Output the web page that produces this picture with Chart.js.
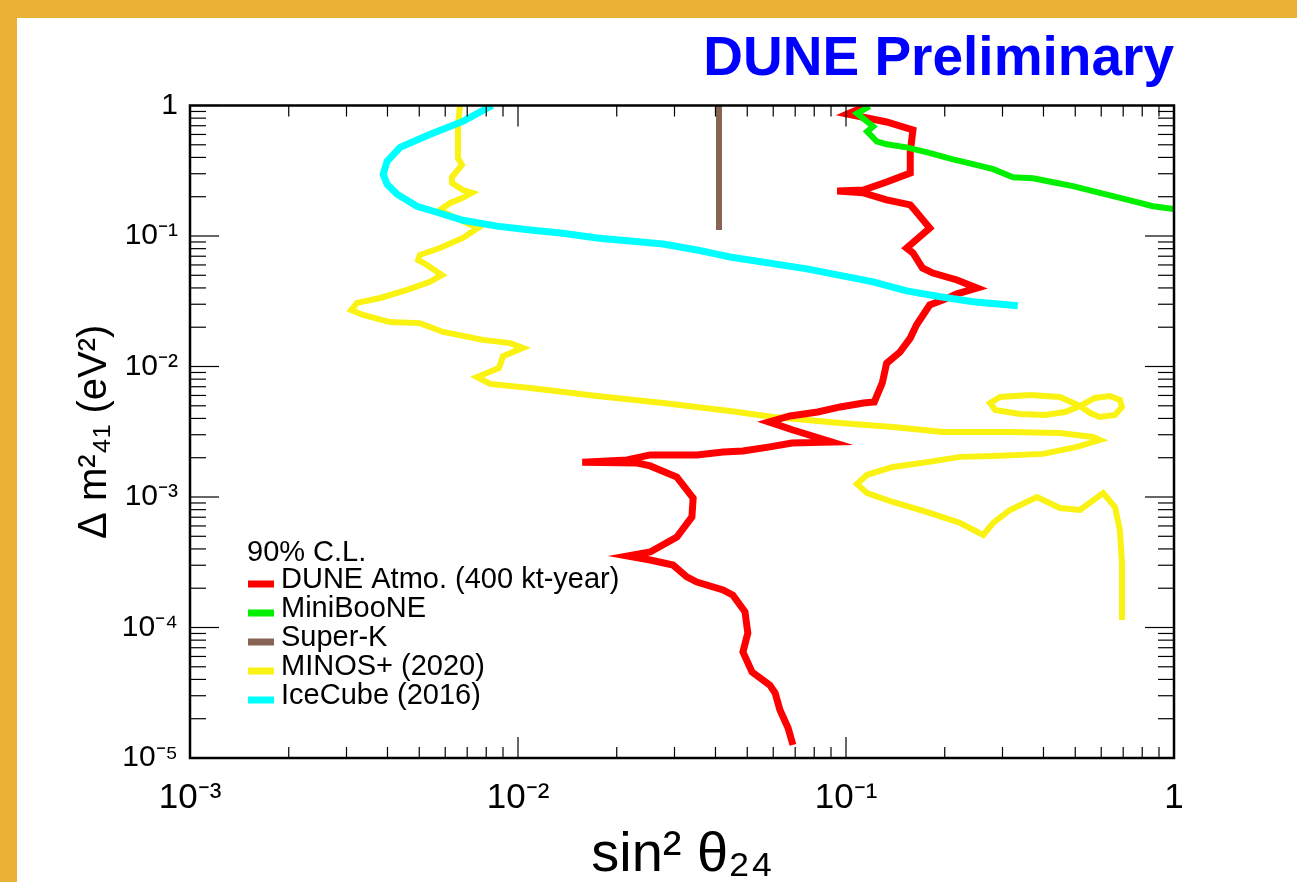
<!DOCTYPE html>
<html>
<head>
<meta charset="utf-8">
<script src="https://cdn.jsdelivr.net/npm/chart.js@4.4.0/dist/chart.umd.min.js"></script>
<style>
html,body{margin:0;padding:0;background:#EAB234;overflow:hidden;}
canvas{display:block;}
</style>
</head>
<body>
<canvas id="c" width="1297" height="882"></canvas>
<script>
// ---------- tick labels ----------
const xTickValues = [0.001, 0.01, 0.1, 1];
const xTickLabels = ['10⁻³', '10⁻²', '10⁻¹', '1'];
const yTickValues = [1e-5, 1e-4, 1e-3, 1e-2, 1e-1, 1];
const yTickLabels = ['10⁻⁵', '10⁻⁴', '10⁻³', '10⁻²', '10⁻¹', '1'];

// ---------- DUNE Atmo. (400 kt-year) ----------
const duneX = [0.115,0.101,0.133,0.160,0.157,0.157,0.133,0.113,0.094,0.113,0.133,0.157,0.162,0.180,0.153,0.160,0.171,0.184,0.218,0.251,0.218,0.198,0.180,0.164,0.157,0.146,0.133,0.129,0.122,0.113,0.096,0.082,0.0675,0.0582,0.0689,0.0906,0.0684,0.0586,0.0485,0.0422,0.0351,0.0253,0.0215,0.0157,0.0231,0.0253,0.0305,0.0342,0.0339,0.0305,0.0253,0.0216,0.0253,0.0297,0.0327,0.0351,0.0422,0.0452,0.0492,0.0502,0.0485,0.0517,0.0586,0.0608,0.0629,0.0666,0.0689];
const duneY = [0.99,0.861,0.748,0.649,0.440,0.304,0.259,0.225,0.221,0.214,0.189,0.173,0.158,0.115,0.0809,0.0741,0.0569,0.0520,0.0460,0.0400,0.0360,0.0324,0.0296,0.0208,0.0165,0.0129,0.0106,0.00748,0.00535,0.00525,0.00490,0.00448,0.00418,0.00376,0.00326,0.00264,0.00259,0.00242,0.00225,0.00221,0.00210,0.00210,0.00192,0.00185,0.00182,0.00173,0.00142,0.000982,0.000703,0.000493,0.000379,0.000353,0.000329,0.000301,0.000244,0.000223,0.000194,0.000177,0.000132,0.0000908,0.0000649,0.0000456,0.0000362,0.0000315,0.0000233,0.0000170,0.0000126];

// ---------- MiniBooNE ----------
const booneX = [0.118,0.108,0.121,0.116,0.124,0.133,0.153,0.177,0.212,0.244,0.281,0.323,0.372,0.428,0.492,0.566,0.652,0.750,0.863,1.0];
const booneY = [0.983,0.869,0.691,0.633,0.531,0.504,0.478,0.438,0.387,0.355,0.325,0.282,0.277,0.258,0.241,0.221,0.202,0.185,0.169,0.161];

// ---------- Super-K ----------
const superKX = [0.041, 0.041];
const superKY = [1.0, 0.111];

// ---------- MINOS+ (2020) ----------
const minosX = [0.00665,0.00656,0.00656,0.00675,0.00629,0.00629,0.00679,0.00724,0.00679,0.00621,0.00578,0.00665,0.00755,0.00679,0.00578,0.00502,0.00496,0.00528,0.00586,0.00539,0.00459,0.00380,0.00323,0.00310,0.00337,0.00407,0.00502,0.00591,0.00782,0.00946,0.01035,0.0090,0.00875,0.0075,0.00822,0.0109,0.0174,0.0277,0.0443,0.0599,0.0959,0.139,0.198,0.316,0.449,0.566,0.594,0.506,0.399,0.281,0.223,0.177,0.139,0.116,0.108,0.116,0.139,0.177,0.223,0.262,0.281,0.316,0.382,0.449,0.517,0.608,0.661,0.684,0.694,0.694];
const minosY = [1.0,0.673,0.396,0.350,0.283,0.255,0.225,0.214,0.196,0.179,0.158,0.133,0.115,0.0966,0.0809,0.0715,0.0655,0.0600,0.0503,0.0445,0.0386,0.0335,0.0307,0.0271,0.0248,0.0219,0.0215,0.0184,0.0160,0.0151,0.0139,0.0120,0.00974,0.00831,0.00735,0.00684,0.00594,0.00525,0.00456,0.00410,0.00369,0.00344,0.00315,0.00315,0.00309,0.00288,0.00273,0.00242,0.00214,0.00206,0.00203,0.00185,0.00170,0.00148,0.00126,0.00107,0.000916,0.000767,0.000632,0.000512,0.000632,0.000795,0.00100,0.000824,0.000795,0.00107,0.000838,0.000558,0.000312,0.000114];
const minosIslandX = [0.517,0.449,0.364,0.295,0.275,0.285,0.339,0.405,0.465,0.517,0.574,0.638,0.684,0.694,0.661,0.594,0.555,0.517];
const minosIslandY = [0.00498,0.00584,0.00605,0.00584,0.00525,0.00465,0.00433,0.00425,0.00448,0.00498,0.00574,0.00594,0.00554,0.00490,0.00425,0.00410,0.00440,0.00498];

// ---------- IceCube (2016) ----------
const iceX = [0.00834,0.00679,0.0054,0.00437,0.00399,0.00388,0.00399,0.00428,0.00492,0.00566,0.00679,0.00863,0.0109,0.0137,0.0174,0.0219,0.0277,0.0351,0.0443,0.0760,0.121,0.153,0.194,0.244,0.334];
const iceY = [1.0,0.755,0.601,0.478,0.374,0.297,0.249,0.209,0.169,0.152,0.132,0.119,0.111,0.105,0.0966,0.0916,0.0869,0.0782,0.0691,0.056,0.0445,0.038,0.0342,0.0313,0.0292];

const legendHeader = '90% C.L.';
const FONT = '"Liberation Sans", Arial, Helvetica, sans-serif';

const pts = (xs, ys) => xs.map((x, i) => ({x: x, y: ys[i]}));

const COL = {
  dune: '#FF0000',
  boone: '#00F000',
  superk: '#876454',
  minos: '#F9F212',
  ice: '#00FFFF'
};

function ds(label, xs, ys, color, width, order, inLegend) {
  return {
    label: label,
    data: pts(xs, ys),
    showLine: true,
    borderColor: color,
    backgroundColor: color,
    borderWidth: width,
    pointRadius: 0,
    pointHoverRadius: 0,
    fill: false,
    tension: 0,
    order: order,
    inLegend: inLegend
  };
}

const datasets = [
  ds('DUNE Atmo. (400 kt-year)', duneX, duneY, COL.dune, 7, 4, true),
  ds('MiniBooNE', booneX, booneY, COL.boone, 6, 2, true),
  ds('Super-K', superKX, superKY, COL.superk, 6, 1, true),
  ds('MINOS+ (2020)', minosX, minosY, COL.minos, 6, 5, true),
  ds('MINOS+ (2020) island', minosIslandX, minosIslandY, COL.minos, 6, 5, false),
  ds('IceCube (2016)', iceX, iceY, COL.ice, 7, 3, true)
];

const bgPlugin = {
  id: 'bg',
  beforeDraw(chart) {
    const ctx = chart.ctx;
    ctx.save();
    ctx.fillStyle = '#EAB234';
    ctx.fillRect(0, 0, chart.width, chart.height);
    ctx.fillStyle = '#FFFFFF';
    ctx.fillRect(17, 18, chart.width - 17, chart.height - 18);
    ctx.restore();
  }
};

const framePlugin = {
  id: 'frame',
  afterDatasetsDraw(chart) {
    const ctx = chart.ctx;
    const a = chart.chartArea;
    const xs = chart.scales.x, ys = chart.scales.y;
    ctx.save();
    ctx.strokeStyle = '#000';
    ctx.lineWidth = 1.2;
    const seg = (x1, y1, x2, y2) => { ctx.beginPath(); ctx.moveTo(x1, y1); ctx.lineTo(x2, y2); ctx.stroke(); };
    for (let i = 0; i < xTickValues.length; i++) {
      for (let k = 1; k <= 9; k++) {
        const v = xTickValues[i] * k;
        if (v > xs.max * 1.0001) break;
        const p = xs.getPixelForValue(v);
        const L = k === 1 ? 21 : 11;
        seg(p, a.bottom, p, a.bottom - L);
        seg(p, a.top, p, a.top + L);
      }
    }
    for (let i = 0; i < yTickValues.length; i++) {
      for (let k = 1; k <= 9; k++) {
        const v = yTickValues[i] * k;
        if (v > ys.max * 1.0001) break;
        const p = ys.getPixelForValue(v);
        const L = k === 1 ? 29 : 16;
        seg(a.left, p, a.left + L, p);
        seg(a.right, p, a.right - L, p);
      }
    }
    ctx.lineWidth = 2.5;
    ctx.strokeRect(a.left, a.top, a.right - a.left, a.bottom - a.top);
    ctx.restore();
  }
};

const legendPlugin = {
  id: 'rootLegend',
  afterDraw(chart) {
    const ctx = chart.ctx;
    const a = chart.chartArea;
    const x0 = a.left + 57;
    const yHead = a.bottom - 205;
    ctx.save();
    ctx.font = '29px ' + FONT;
    ctx.fillStyle = '#000';
    ctx.textBaseline = 'middle';
    ctx.textAlign = 'left';
    ctx.fillText(legendHeader, x0, yHead);
    chart.data.datasets.filter(d => d.inLegend).forEach((d, i) => {
      const ty = yHead + 27 + i * 29;
      ctx.strokeStyle = d.borderColor;
      ctx.lineWidth = 7;
      ctx.beginPath();
      ctx.moveTo(x0 + 1, ty + 4);
      ctx.lineTo(x0 + 27, ty + 4);
      ctx.stroke();
      ctx.fillText(d.label, x0 + 34, ty);
    });
    ctx.restore();
  }
};

Chart.defaults.font.family = FONT;
Chart.defaults.color = '#000';

new Chart(document.getElementById('c'), {
  type: 'scatter',
  data: { datasets: datasets },
  plugins: [bgPlugin, framePlugin, legendPlugin],
  options: {
    responsive: false,
    animation: false,
    devicePixelRatio: 1,
    events: [],
    layout: { padding: { top: 10, right: 123, bottom: 0, left: 0 } },
    plugins: {
      legend: { display: false },
      tooltip: { enabled: false },
      title: {
        display: true,
        text: 'DUNE Preliminary',
        align: 'end',
        color: '#0000FF',
        font: { family: FONT, size: 55, weight: 'bold', lineHeight: 1 },
        padding: { top: 22.5, bottom: 18 }
      }
    },
    scales: {
      x: {
        type: 'logarithmic',
        position: 'bottom',
        min: 0.001,
        max: 1,
        afterBuildTicks: (scale) => { scale.ticks = xTickValues.map(v => ({ value: v })); },
        afterFit: (scale) => { scale.height = 124; },
        grid: { display: false, drawTicks: false },
        border: { display: false },
        ticks: {
          autoSkip: false,
          maxRotation: 0,
          padding: 19,
          font: { family: FONT, size: 35 },
          color: '#000',
          callback: (v, i) => xTickLabels[i]
        },
        title: {
          display: true,
          text: 'sin² θ₂₄',
          color: '#000',
          font: { family: FONT, size: 56, lineHeight: 0.95 },
          padding: { top: 0, bottom: 0 }
        }
      },
      y: {
        type: 'logarithmic',
        position: 'left',
        min: 1e-5,
        max: 1,
        afterBuildTicks: (scale) => { scale.ticks = yTickValues.map(v => ({ value: v })); },
        afterFit: (scale) => { scale.width = 190; },
        grid: { display: false, drawTicks: false },
        border: { display: false },
        ticks: {
          autoSkip: false,
          padding: 12,
          font: { family: FONT, size: 30 },
          color: '#000',
          callback: (v, i) => yTickLabels[i]
        },
        title: {
          display: true,
          text: 'Δ m²₄₁ (eV²)',
          color: '#000',
          font: { family: FONT, size: 40, lineHeight: 1 },
          padding: { top: 75, bottom: 0 }
        }
      }
    }
  }
});
</script>
</body>
</html>
